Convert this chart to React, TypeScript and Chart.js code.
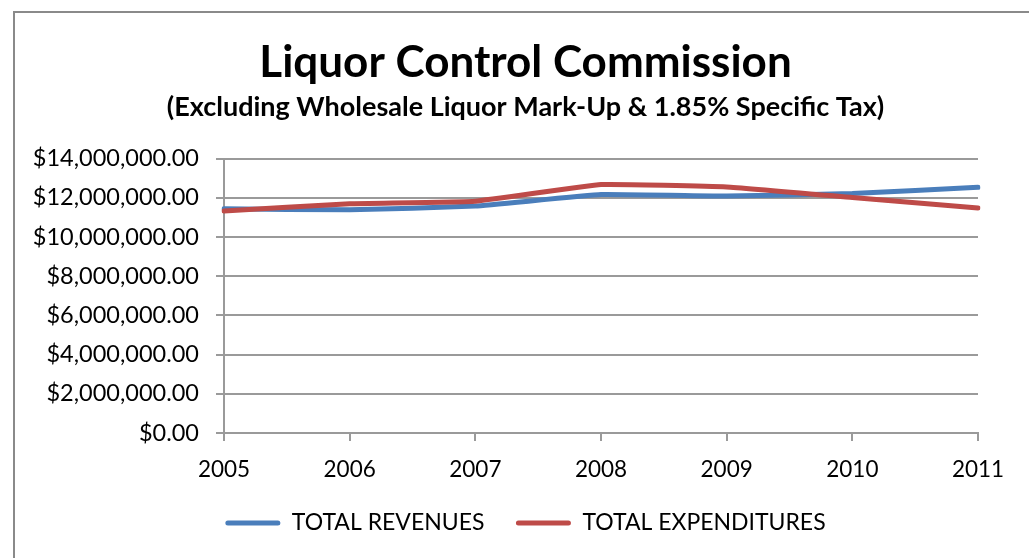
import React, { useEffect, useRef } from "react";
import { Chart, registerables } from "chart.js";

Chart.register(...registerables);

const years = ["2005", "2006", "2007", "2008", "2009", "2010", "2011"];
const totalRevenues = [11440000, 11390000, 11580000, 12170000, 12090000, 12220000, 12540000];
const totalExpenditures = [11330000, 11700000, 11830000, 12680000, 12560000, 12020000, 11480000];
const titleText = "Liquor Control Commission";
const subtitleText = "(Excluding Wholesale Liquor Mark-Up & 1.85% Specific Tax)";

const FONT = "Lato, 'Noto Sans', sans-serif";
const BLUE = "#4a7ebb";
const RED = "#be4b48";
const GRID = "#9a9a9a";

export default function App() {
  const ref = useRef<HTMLCanvasElement | null>(null);

  useEffect(() => {
    if (!ref.current) return;
    const chart = new Chart(ref.current, {
      type: "line",
      data: {
        labels: years,
        datasets: [
          {
            label: "TOTAL REVENUES",
            data: totalRevenues,
            borderColor: BLUE,
            backgroundColor: BLUE,
            borderWidth: 5,
            pointRadius: 0,
            tension: 0.1,
            borderCapStyle: "round",
            borderJoinStyle: "round",
            order: 1,
          },
          {
            label: "TOTAL EXPENDITURES",
            data: totalExpenditures,
            borderColor: RED,
            backgroundColor: RED,
            borderWidth: 5,
            pointRadius: 0,
            tension: 0.1,
            borderCapStyle: "round",
            borderJoinStyle: "round",
            order: 0,
          },
        ],
      },
      options: {
        responsive: false,
        animation: false,
        layout: { padding: { left: 22, right: 0, top: 0, bottom: 13.5 } },
        plugins: {
          tooltip: { enabled: false },
          title: {
            display: true,
            text: titleText,
            color: "#000",
            font: { family: FONT, size: 44, weight: "bold" },
            padding: { top: 36, bottom: 2.5 },
          },
          subtitle: {
            display: true,
            text: subtitleText,
            color: "#000",
            font: { family: FONT, size: 27, weight: "bold" },
            padding: { top: 0, bottom: 35 },
          },
          legend: {
            position: "bottom",
            labels: {
              color: "#000",
              font: { family: FONT, size: 23 },
              boxWidth: 55,
              boxHeight: 5,
              padding: 31.5,
              useBorderRadius: true,
              borderRadius: 2.5,
              sort: (a: any, b: any) => a.datasetIndex - b.datasetIndex,
              generateLabels: (c: any) =>
                Chart.defaults.plugins.legend.labels
                  .generateLabels(c)
                  .map((l: any) => ({ ...l, lineWidth: 0 })),
            },
          },
        },
        scales: {
          x: {
            offset: false,
            grid: {
              drawOnChartArea: false,
              drawTicks: true,
              tickLength: 8,
              color: GRID,
              lineWidth: 2,
            },
            border: { color: GRID, width: 2 },
            ticks: {
              color: "#000",
              padding: 15,
              font: { family: FONT, size: 22.5 },
              maxRotation: 0,
            },
            afterFit: (s: any) => {
              s.height = 47;
            },
          },
          y: {
            min: 0,
            max: 14000000,
            grid: { color: GRID, lineWidth: 2, tickLength: 8 },
            border: { color: GRID, width: 2 },
            ticks: {
              stepSize: 2000000,
              color: "#000",
              padding: 17,
              font: { family: FONT, size: 23.5 },
              callback: (v: any) =>
                "$" +
                Number(v).toLocaleString("en-US", {
                  minimumFractionDigits: 2,
                  maximumFractionDigits: 2,
                }),
            },
            afterFit: (s: any) => {
              s.width = 202;
            },
          },
          yRight: {
            position: "right",
            display: true,
            grid: { display: false, drawTicks: false },
            border: { display: false },
            ticks: { display: false },
            afterFit: (s: any) => {
              s.width = 51;
            },
          },
        },
      },
    });
    return () => chart.destroy();
  }, []);

  return (
    <div
      style={{
        position: "fixed",
        left: 0,
        top: 0,
        width: 1029,
        height: 558,
        overflow: "hidden",
        background: "#fff",
      }}
    >
      <div
        style={{
          position: "absolute",
          left: 13,
          top: 11,
          width: 1100,
          height: 700,
          borderLeft: "2px solid #8a8a8a",
          borderTop: "2px solid #8a8a8a",
          boxSizing: "border-box",
        }}
      />
      <canvas
        ref={ref}
        width={1029}
        height={558}
        style={{ position: "absolute", left: 0, top: 0, display: "block" }}
      />
    </div>
  );
}
